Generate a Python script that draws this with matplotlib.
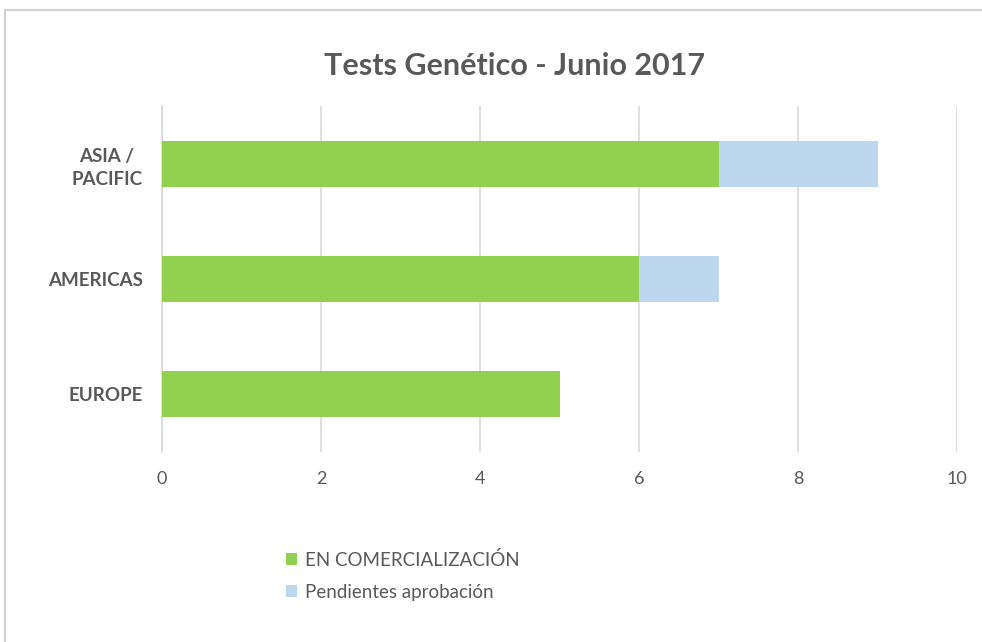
import matplotlib.pyplot as plt
from matplotlib.patches import Rectangle

regions = ['EUROPE', 'AMERICAS', 'ASIA /\nPACIFIC']
en_comercializacion = [5, 6, 7]
pendientes = [0, 1, 2]
xticks = [0, 2, 4, 6, 8, 10]

green = '#92D050'
blue = '#BDD7EE'
grey_text = '#595959'

plt.rcParams['font.family'] = ['Lato', 'DejaVu Sans']

fig = plt.figure(figsize=(9.82, 6.42), dpi=100)
ax = fig.add_axes([162 / 982, 1 - 452 / 642, (957 - 162) / 982, (452 - 106) / 642])

y = range(len(regions))
ax.barh(y, en_comercializacion, height=0.4, color=green, label='EN COMERCIALIZACIÓN', zorder=3)
ax.barh(y, pendientes, left=en_comercializacion, height=0.4, color=blue,
        label='Pendientes aprobación', zorder=3)

ax.set_xlim(0, 10)
ax.set_ylim(-0.5, 2.5)
ax.set_xticks(xticks)
ax.set_yticks(list(y))
ax.set_yticklabels(regions, fontsize=13.5, fontweight='bold', color=grey_text, linespacing=1.4)
for lbl in ax.get_yticklabels():
    lbl.set_multialignment('center')
ax.tick_params(axis='x', labelsize=13, colors=grey_text, length=0, pad=14)
ax.tick_params(axis='y', length=0, pad=14)
ax.grid(axis='x', color='#D9D9D9', linewidth=1.2, zorder=0)
for s in ['top', 'right', 'bottom']:
    ax.spines[s].set_visible(False)
ax.spines['left'].set_color('#D9D9D9')
ax.spines['left'].set_linewidth(1.2)

fig.text(515 / 982, 1 - 66 / 642, 'Tests Genético - Junio 2017', ha='center', va='center',
         fontsize=22, fontweight='bold', color=grey_text)

leg = fig.legend(loc='upper left', bbox_to_anchor=(269 / 982, 1 - 534 / 642), frameon=False,
                 fontsize=13.5, handlelength=0.6, handleheight=0.6, handletextpad=0.4,
                 labelspacing=0.8)
for t in leg.get_texts():
    t.set_color(grey_text)

# chart frame
fig.patches.append(Rectangle((5 / 982, -0.05), 1.2, 1 - 10 / 642 + 0.05, transform=fig.transFigure,
                             fill=False, edgecolor='#D0D0D0', linewidth=1.5))

fig.savefig('out.png', dpi=100)
